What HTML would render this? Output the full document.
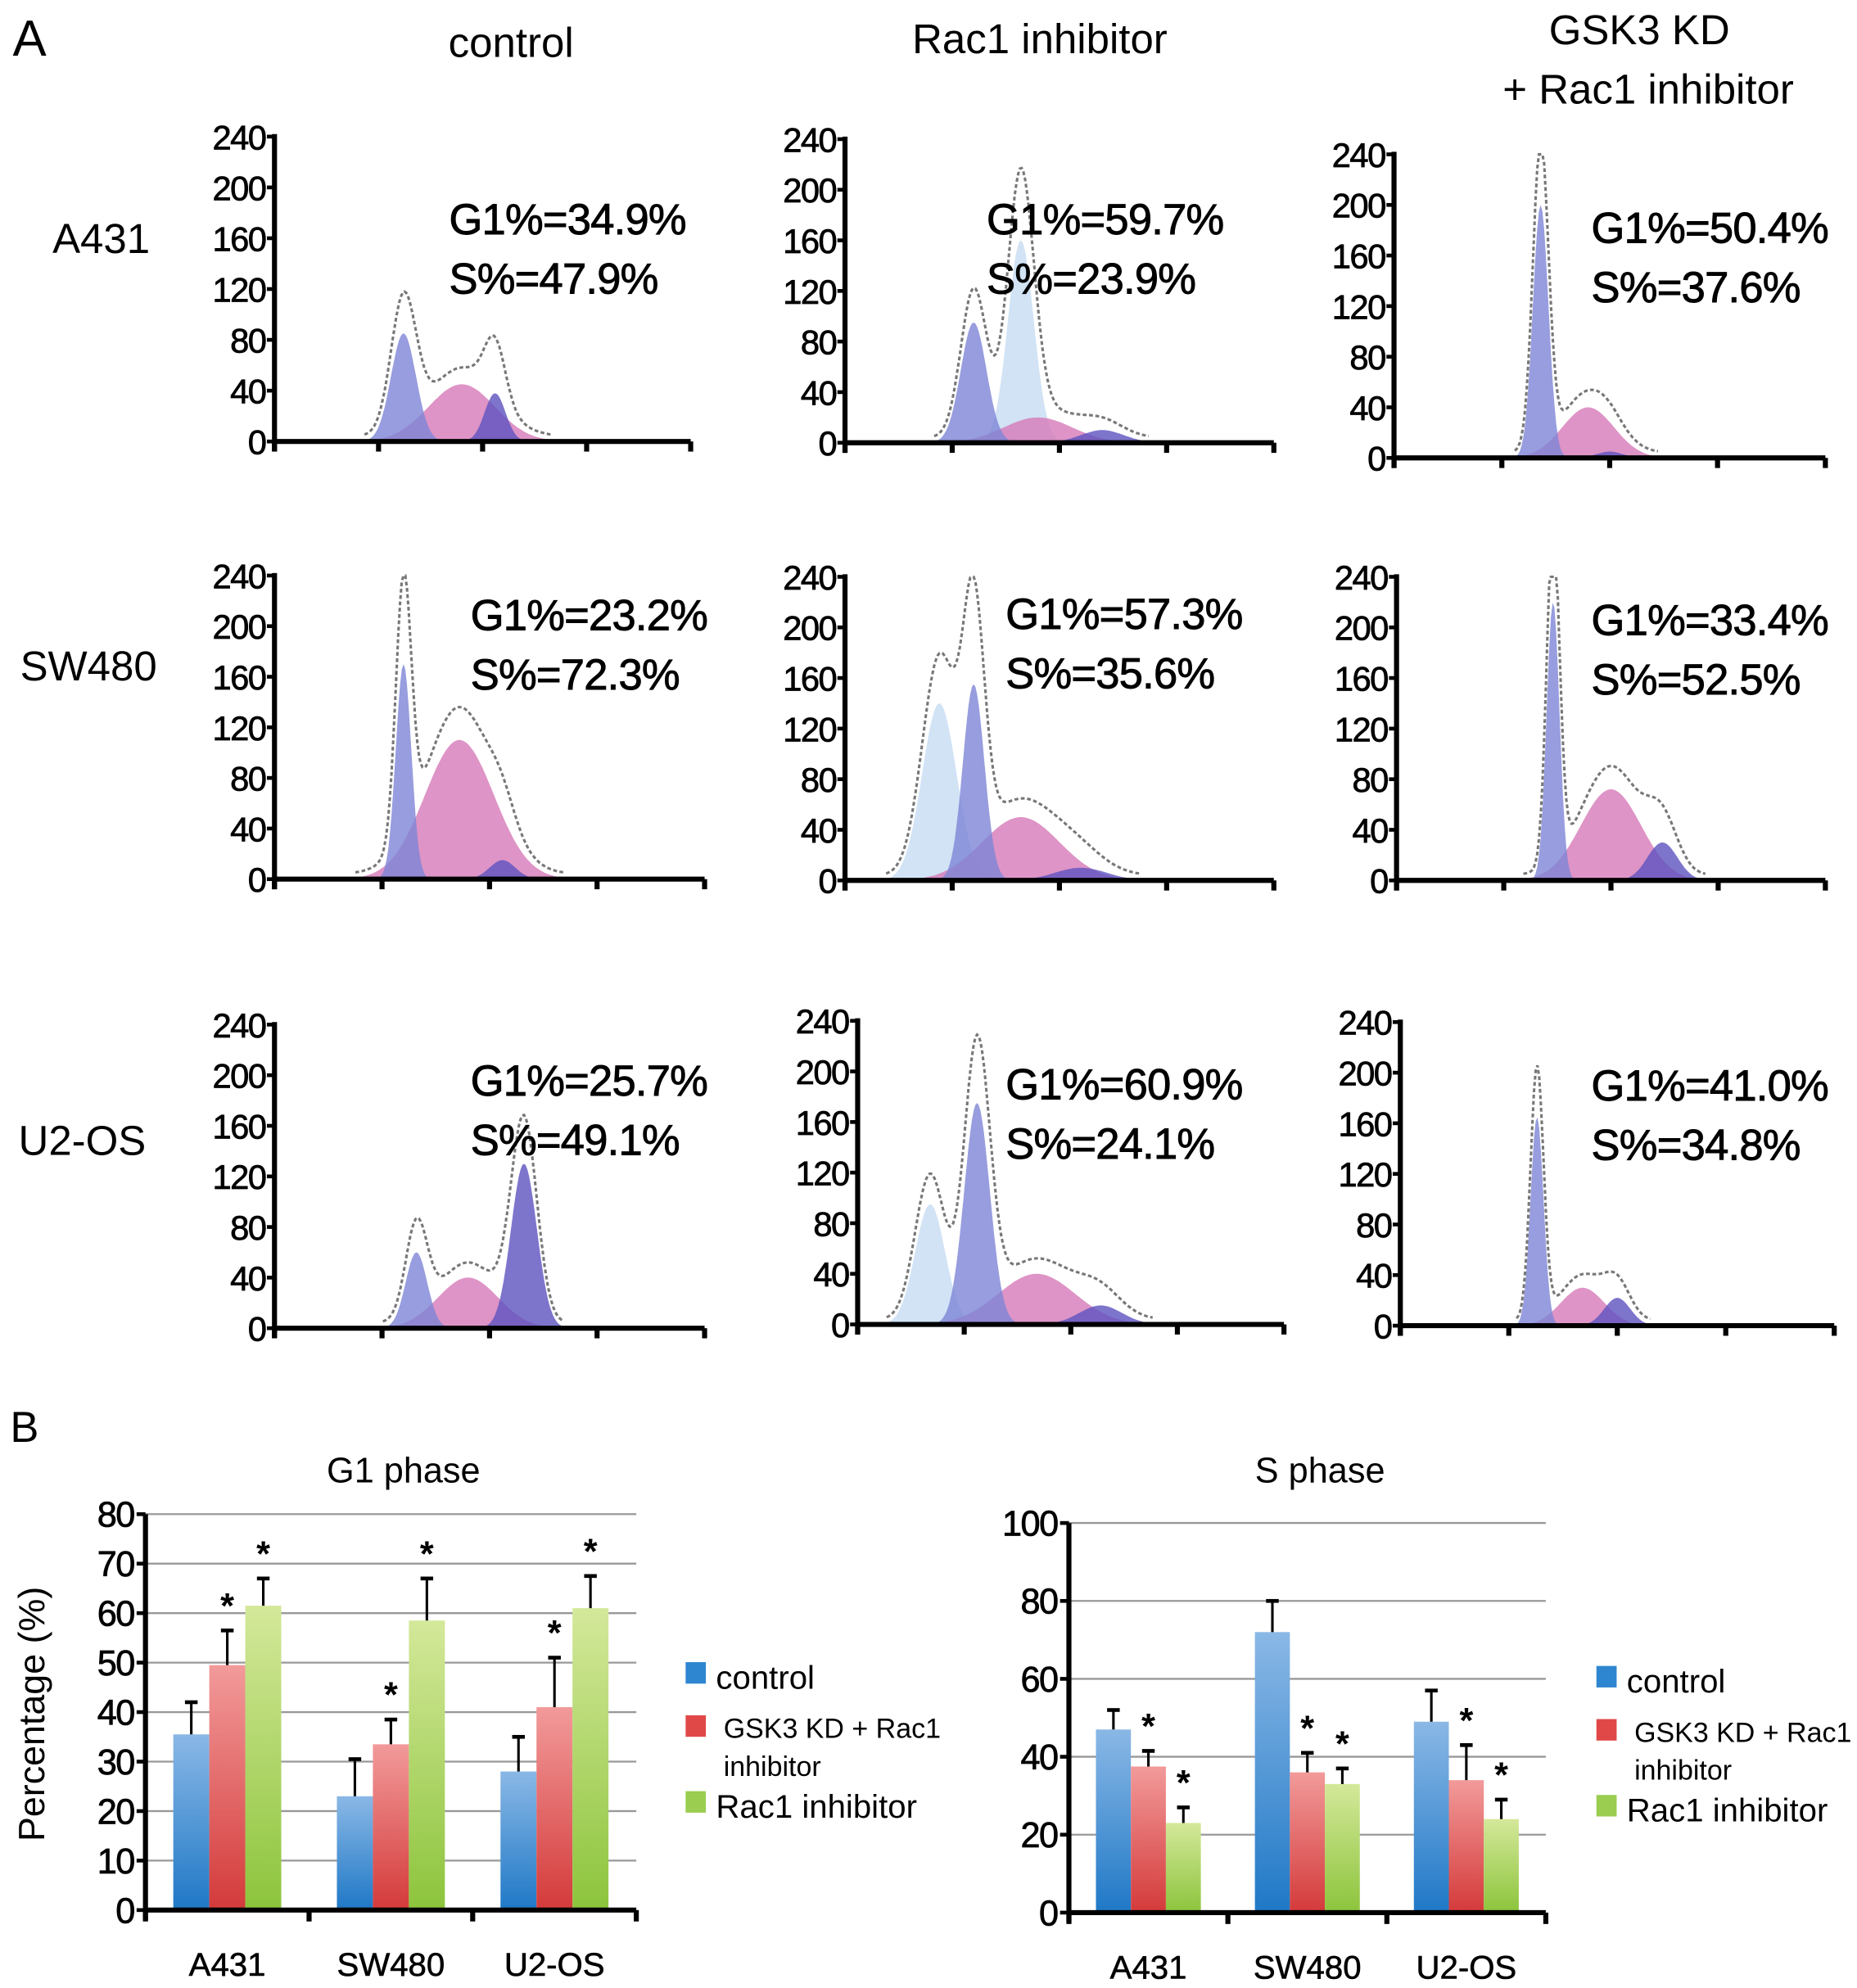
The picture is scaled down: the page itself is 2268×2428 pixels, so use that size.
<!DOCTYPE html>
<html><head><meta charset="utf-8"><style>
html,body{margin:0;padding:0;background:#fff;}
svg{display:block;}
text{font-family:"Liberation Sans",sans-serif;fill:#000;}
</style></head><body>
<svg id="fig" width="2268" height="2428" viewBox="0 0 1468 1571.6" preserveAspectRatio="none" xmlns="http://www.w3.org/2000/svg">
<defs>
<linearGradient id="gBlue" x1="0" y1="0" x2="0" y2="1"><stop offset="0" stop-color="#8ab8e6"/><stop offset="1" stop-color="#1f78c6"/></linearGradient>
<linearGradient id="gRed" x1="0" y1="0" x2="0" y2="1"><stop offset="0" stop-color="#f29a9a"/><stop offset="1" stop-color="#d43a3a"/></linearGradient>
<linearGradient id="gGreen" x1="0" y1="0" x2="0" y2="1"><stop offset="0" stop-color="#d4e89a"/><stop offset="1" stop-color="#8cc43c"/></linearGradient>
</defs>
<text x="10" y="44" font-size="40">A</text>
<text x="8" y="1140" font-size="34">B</text>
<text x="404" y="45" font-size="33" text-anchor="middle">control</text>
<text x="822" y="42" font-size="33" text-anchor="middle">Rac1 inhibitor</text>
<text x="1296" y="35" font-size="33" text-anchor="middle">GSK3 KD</text>
<text x="1303" y="82" font-size="33" text-anchor="middle">+ Rac1 inhibitor</text>
<text x="80" y="200" font-size="33" text-anchor="middle">A431</text>
<text x="70" y="538" font-size="33" text-anchor="middle">SW480</text>
<text x="65" y="913" font-size="33" text-anchor="middle">U2-OS</text>
<g id="hists"></g>
<g id="bars"></g>
</svg>
<script>
const NS="http://www.w3.org/2000/svg";
const histLayout=[
 [217,108,349,546,355,185],[668,110,350,1007,780,185],[1102,122,362,1443,1258,192],
 [217,455,695,557,372,498],[668,456,696,1007,795,497],[1104,456,696,1443,1258,502],
 [217,810,1050,557,372,866],[678,807,1047,1015,795,869],[1107,808,1048,1450,1258,870]];
const histG1Text=["G1%=34.9%","G1%=59.7%","G1%=50.4%","G1%=23.2%","G1%=57.3%","G1%=33.4%","G1%=25.7%","G1%=60.9%","G1%=41.0%"];
const histSText=["S%=47.9%","S%=23.9%","S%=37.6%","S%=72.3%","S%=35.6%","S%=52.5%","S%=49.1%","S%=24.1%","S%=34.8%"];
const histG1=[[.31,85,.03],[.30,95,.03],[.34,200,.018],[.30,170,.018],[.30,155,.025],[.365,220,.015],[.33,60,.025],[.28,175,.03],[.315,165,.015]];
const histS=[[.45,45,.08],[.45,20,.08],[.45,40,.06],[.43,110,.08],[.41,50,.09],[.5,72,.07],[.45,40,.07],[.42,40,.09],[.42,30,.05]];
const histG2=[[.53,38,.025],[.6,10,.05],[.5,5,.03],[.53,15,.03],[.55,10,.06],[.62,30,.035],[.58,130,.03],[.57,15,.05],[.5,22,.03]];
const histLight=[null,[.41,160,.03],null,null,[.22,140,.04],null,null,[.17,95,.035],null];
const yTicks=[0,40,80,120,160,200,240];

function mk(tag,attrs,parent){const e=document.createElementNS(NS,tag);for(const k in attrs)e.setAttribute(k,attrs[k]);parent.appendChild(e);return e;}
const hg=document.getElementById('hists');
histLayout.forEach((L,i)=>{
 const [ax,yt,yb,xe,tx,ty]=L;
 const g=mk('g',{},hg);
 
 
 const yS=v=>yb-(v/240)*(yb-yt);
 const xS=f=>ax+f*(xe-ax);
 const gauss=(c,f)=>c[1]*Math.exp(-0.5*Math.pow((f-c[0])/c[2],2));
 const comps=[[histLight[i],'#c6dcf2'],[histS[i],'#d679b8'],[histG1[i],'#7d84d6'],[histG2[i],'#5d52bf']];
 comps.forEach(([c,col],k)=>{
   if(!c)return;
   let pts=[];
   for(let f=0;f<=1.0001;f+=0.004){pts.push(xS(f).toFixed(1)+','+yS(gauss(c,f)).toFixed(1));}
   const p=mk('polygon',{points:pts.join(' ')+' '+xS(1)+','+yb+' '+xS(0)+','+yb,fill:col,'fill-opacity':0.8},g);
   
   
 });
 let op=[];
 for(let f=0;f<=1.0001;f+=0.004){let s=0;comps.forEach(([c])=>{if(c)s+=gauss(c,f);});if(s>1)op.push(xS(f).toFixed(1)+','+yS(Math.min(240,s*1.2+4)).toFixed(1));}
 const ol=mk('polyline',{points:op.join(' '),fill:'none',stroke:'#777','stroke-width':2,'stroke-dasharray':'3,2'},g);
 
 
 mk('line',{x1:ax,y1:yt-2,x2:ax,y2:yb+8,stroke:'#000','stroke-width':4},g);
 mk('line',{x1:ax,y1:yb,x2:xe,y2:yb,stroke:'#000','stroke-width':4},g);
 for(let k=0;k<=4;k++){const x=ax+k*(xe-ax)/4;mk('line',{x1:x,y1:yb,x2:x,y2:yb+8,stroke:'#000','stroke-width':4},g);}
 yTicks.forEach(v=>{mk('line',{x1:ax-6,y1:yS(v),x2:ax,y2:yS(v),stroke:'#000','stroke-width':3},g);
   const t=mk('text',{x:ax-7,y:yS(v)+10,'font-size':27,'text-anchor':'end','letter-spacing':-1,stroke:'#000','stroke-width':0.5},g);t.textContent=v;});
 const t1=mk('text',{x:tx,y:ty,'font-size':34,'letter-spacing':-0.5,stroke:'#000','stroke-width':0.6},g);t1.textContent=histG1Text[i];
 
 
 const t2=mk('text',{x:tx,y:ty+47,'font-size':34,'letter-spacing':-0.5,stroke:'#000','stroke-width':0.6},g);t2.textContent=histSText[i];
 
 
});

const categories=["A431","SW480","U2-OS"];
const g1Control=[35.5,23,28], g1Gsk=[49.5,33.5,41], g1Rac=[61.5,58.5,61];
const g1ControlErr=[6.5,7.5,7], g1GskErr=[7,5,10], g1RacErr=[5.5,8.5,6.5];
const g1Ticks=[0,10,20,30,40,50,60,70,80];
const sControl=[47,72,49], sGsk=[37.5,36,34], sRac=[23,33,24];
const sControlErr=[5,8,8], sGskErr=[4,5,9], sRacErr=[4,4,5];
const sTicks=[0,20,40,60,80,100];
const seriesNames=["control","GSK3 KD + Rac1 inhibitor","Rac1 inhibitor"];

const bg=document.getElementById('bars');
function barChart(name,title,ax,yTop,yBot,xEnd,maxV,ticks,vals,errs,stars,legX,legY){
 const g=mk('g',{},bg);
 
 
 const yS=v=>yBot-(v/maxV)*(yBot-yTop);
 const gw=(xEnd-ax)/3, bw=gw*0.22;
 const tt=mk('text',{x:(ax+xEnd)/2+10,y:1172,'font-size':28,'text-anchor':'middle'},g);tt.textContent=title;
 
 
 ticks.forEach(v=>{ if(v>0) mk('line',{x1:ax,y1:yS(v),x2:xEnd,y2:yS(v),stroke:'#999','stroke-width':1.5},g);
   mk('line',{x1:ax-7,y1:yS(v),x2:ax,y2:yS(v),stroke:'#000','stroke-width':3},g);
   const t=mk('text',{x:ax-9,y:yS(v)+10,'font-size':28,'text-anchor':'end','letter-spacing':-1,stroke:'#000','stroke-width':0.5},g);t.textContent=v;});
 const fills=['url(#gBlue)','url(#gRed)','url(#gGreen)'];
 categories.forEach((c,ci)=>{
  const x0=ax+ci*gw+gw*0.17;
  vals.forEach((arr,si)=>{
   const x=x0+si*bw, v=arr[ci], e=errs[si][ci];
   const r=mk('rect',{x:x,y:yS(v),width:bw,height:yBot-yS(v),fill:fills[si]},g);
   
   
   const cx=x+bw/2;
   mk('line',{x1:cx,y1:yS(v),x2:cx,y2:yS(v+e),stroke:'#000','stroke-width':2},g);
   mk('line',{x1:cx-5,y1:yS(v+e),x2:cx+5,y2:yS(v+e),stroke:'#000','stroke-width':3},g);
   if(stars[si]&&stars[si][ci]){const s=mk('text',{x:cx,y:yS(v+e)-10,'font-size':28,'font-weight':'bold','text-anchor':'middle'},g);s.textContent='*';}
  });
  const lb=mk('text',{x:ax+ci*gw+gw/2,y:yBot+52,'font-size':26,'text-anchor':'middle',stroke:'#000','stroke-width':0.4},g);lb.textContent=c;
  
  
 });
 mk('line',{x1:ax,y1:yTop,x2:ax,y2:yBot+8,stroke:'#000','stroke-width':4},g);
 mk('line',{x1:ax,y1:yBot,x2:xEnd,y2:yBot,stroke:'#000','stroke-width':4},g);
 for(let k=0;k<=3;k++){const x=ax+k*gw;mk('line',{x1:x,y1:yBot,x2:x,y2:yBot+9,stroke:'#000','stroke-width':4},g);}
 const lc=['#2f86d0','#e04848','#9acd50'];
 const ly=[legY,legY+42,legY+102];
 [0,1,2].forEach(k=>{
  const le=mk('g',{},g);
  
  
  mk('rect',{x:legX,y:ly[k]-18,width:16,height:17,fill:lc[k]},le);
  if(k===1){const a=mk('text',{x:legX+30,y:ly[k],'font-size':22},le);a.textContent='GSK3 KD + Rac1';
    const b=mk('text',{x:legX+30,y:ly[k]+30,'font-size':22},le);b.textContent='inhibitor';}
  else{const a=mk('text',{x:legX+24,y:ly[k]+3,'font-size':26},le);a.textContent=seriesNames[k];}
 });
}
barChart('g1-phase-chart','G1 phase',115,1197,1510,503,80,g1Ticks,[g1Control,g1Gsk,g1Rac],[g1ControlErr,g1GskErr,g1RacErr],[[false,false,false],[true,true,true],[true,true,true]],542,1332);
barChart('s-phase-chart','S phase',845,1204,1512,1222,100,sTicks,[sControl,sGsk,sRac],[sControlErr,sGskErr,sRacErr],[[false,false,false],[true,true,true],[true,true,true]],1262,1335);
const ylab=document.createElementNS(NS,'text');
ylab.setAttribute('transform','translate(35,1355) rotate(-90)');
ylab.setAttribute('font-size','29');ylab.setAttribute('text-anchor','middle');
ylab.textContent='Percentage (%)';


document.getElementById('fig').appendChild(ylab);
</script>
</body></html>
